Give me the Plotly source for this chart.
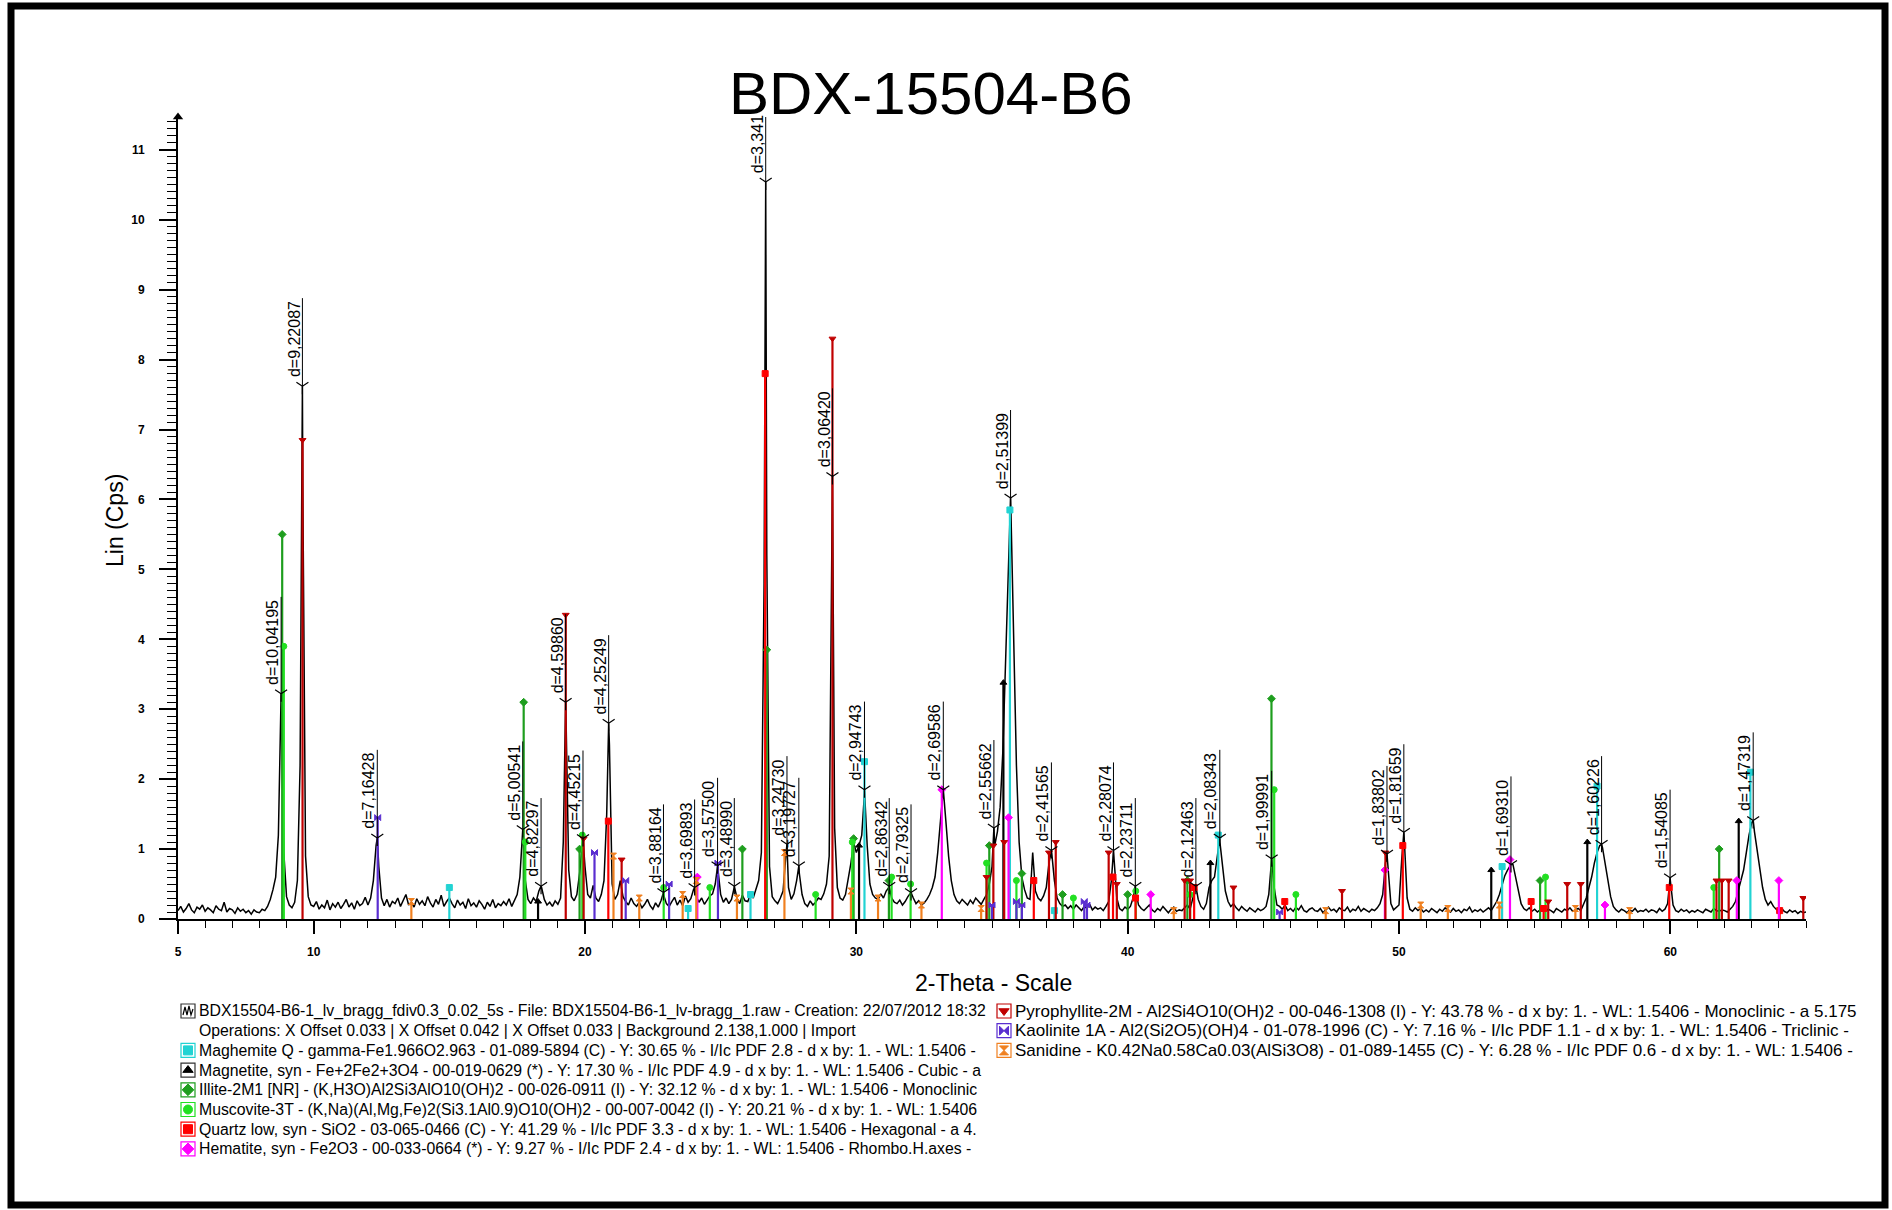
import plotly.graph_objects as go

W, H = 1892, 1210
PX0, PX1, PY_TOP, PY_BOT = 178, 1806, 117, 919
X_RANGE = [5, 65]
Y_RANGE = [0, 11.47]

# ---------------- measured pattern (Lin Cps), 0.1 deg steps from 5.0 to 65.0 ----
theta_start = 5.0
theta_step = 0.1
counts_rows = [
    [0.12,0.18,0.10,0.15,0.22,0.13,0.09,0.17,0.14,0.20],
    [0.11,0.16,0.13,0.09,0.19,0.14,0.12,0.24,0.10,0.15],
    [0.13,0.08,0.16,0.11,0.14,0.09,0.12,0.07,0.13,0.10],
    [0.09,0.14,0.12,0.18,0.28,0.42,0.60,1.20,3.22,0.95],
    [0.32,0.20,0.16,0.24,0.55,2.20,6.20,0.90,0.32,0.20],
    [0.18,0.25,0.14,0.20,0.16,0.27,0.13,0.22,0.17,0.24],
    [0.15,0.21,0.28,0.17,0.23,0.14,0.26,0.19,0.22,0.31],
    [0.20,0.30,0.55,1.05,0.75,0.30,0.19,0.28,0.17,0.25],
    [0.22,0.30,0.18,0.27,0.35,0.20,0.24,0.17,0.29,0.21],
    [0.26,0.19,0.32,0.23,0.17,0.28,0.21,0.34,0.18,0.25],
    [0.30,0.22,0.16,0.27,0.20,0.24,0.15,0.29,0.19,0.23],
    [0.17,0.26,0.21,0.14,0.24,0.18,0.28,0.16,0.22,0.19],
    [0.25,0.20,0.29,0.18,0.26,0.35,0.60,1.20,0.55,0.28],
    [0.22,0.30,0.25,0.40,0.45,0.28,0.20,0.24,0.18,0.26],
    [0.21,0.30,1.10,2.90,0.70,0.32,0.26,0.35,0.65,1.10],
    [0.75,0.35,0.30,0.48,0.30,0.25,0.35,0.55,1.50,2.50],
    [0.50,0.28,0.35,0.55,0.32,0.25,0.20,0.30,0.22,0.18],
    [0.24,0.16,0.21,0.28,0.19,0.14,0.23,0.17,0.26,0.34],
    [0.22,0.18,0.25,0.31,0.20,0.27,0.19,0.33,0.24,0.29],
    [0.42,0.32,0.24,0.30,0.21,0.27,0.33,0.36,0.50,0.70],
    [0.35,0.24,0.30,0.22,0.28,0.45,0.30,0.22,0.34,0.26],
    [0.25,0.35,0.30,0.42,0.55,0.95,4.80,5.20,0.75,0.32],
    [0.26,0.22,0.30,0.40,0.90,0.45,0.28,0.36,0.55,0.65],
    [0.35,0.22,0.18,0.26,0.20,0.24,0.30,0.28,0.36,0.50],
    [0.90,5.60,1.30,0.45,0.30,0.27,0.35,0.55,0.80,1.10],
    [0.95,1.05,1.20,1.80,1.05,0.50,0.35,0.30,0.28,0.36],
    [0.30,0.40,0.45,0.30,0.24,0.22,0.27,0.20,0.25,0.32],
    [0.38,0.30,0.22,0.26,0.20,0.23,0.28,0.35,0.45,0.60],
    [0.95,1.40,1.85,1.40,0.90,0.55,0.35,0.26,0.22,0.28],
    [0.24,0.20,0.27,0.22,0.30,0.25,0.21,0.28,0.35,0.50],
    [0.75,1.05,1.25,1.60,2.40,3.60,5.00,5.80,3.90,2.20],
    [1.10,0.60,0.42,0.30,0.28,0.95,0.40,0.30,0.26,0.33],
    [0.45,0.80,0.95,0.55,0.30,0.22,0.18,0.20,0.15,0.19],
    [0.14,0.20,0.16,0.12,0.18,0.15,0.21,0.13,0.17,0.14],
    [0.16,0.12,0.18,0.25,0.55,0.85,0.30,0.15,0.12,0.17],
    [0.14,0.18,0.30,0.40,0.20,0.15,0.12,0.16,0.20,0.13],
    [0.10,0.15,0.12,0.18,0.13,0.09,0.14,0.17,0.11,0.13],
    [0.12,0.16,0.20,0.14,0.30,0.45,0.28,0.18,0.14,0.22],
    [0.45,0.55,0.60,0.90,1.10,0.75,0.40,0.25,0.18,0.22],
    [0.16,0.12,0.18,0.14,0.11,0.16,0.13,0.10,0.15,0.12],
    [0.14,0.18,0.35,0.82,0.45,0.20,0.18,0.14,0.20,0.12],
    [0.15,0.11,0.17,0.13,0.19,0.12,0.10,0.14,0.16,0.12],
    [0.11,0.15,0.09,0.13,0.17,0.12,0.14,0.10,0.16,0.13],
    [0.12,0.17,0.10,0.14,0.12,0.18,0.11,0.15,0.13,0.10],
    [0.14,0.12,0.16,0.22,0.35,0.80,0.70,0.22,0.13,0.16],
    [0.20,0.85,1.10,0.30,0.14,0.11,0.16,0.12,0.15,0.10],
    [0.13,0.10,0.15,0.12,0.09,0.14,0.11,0.16,0.12,0.10],
    [0.15,0.11,0.13,0.09,0.14,0.12,0.17,0.10,0.13,0.11],
    [0.14,0.10,0.13,0.16,0.12,0.18,0.25,0.35,0.50,0.62],
    [0.70,0.75,0.78,0.60,0.40,0.22,0.15,0.12,0.16,0.11],
    [0.14,0.10,0.13,0.16,0.11,0.14,0.12,0.09,0.15,0.12],
    [0.10,0.14,0.12,0.16,0.11,0.13,0.15,0.12,0.20,0.30],
    [0.45,0.60,0.80,0.95,1.05,1.02,0.80,0.55,0.32,0.18],
    [0.13,0.10,0.14,0.12,0.09,0.13,0.11,0.15,0.10,0.12],
    [0.11,0.14,0.10,0.13,0.12,0.09,0.15,0.11,0.14,0.22],
    [0.55,0.20,0.12,0.10,0.14,0.11,0.13,0.09,0.12,0.10],
    [0.13,0.11,0.09,0.14,0.12,0.10,0.15,0.12,0.11,0.13],
    [0.12,0.10,0.14,0.18,0.25,0.40,0.55,0.70,0.95,1.20],
    [1.38,1.25,1.00,0.70,0.45,0.28,0.20,0.25,0.18,0.14],
    [0.12,0.15,0.11,0.09,0.13,0.10,0.12,0.08,0.11,0.09],
]
counts_last = 0.10

# ---------------- labelled peaks ----------------
label_2theta = [8.80, 9.585, 12.345, 17.706, 18.381, 19.286, 19.926, 20.872, 22.892,
                24.040, 24.886, 25.503, 26.660, 27.444, 27.881, 29.119, 30.300, 31.212,
                32.016, 33.205, 35.070, 35.684, 37.190, 39.477, 40.282, 42.514, 43.396,
                45.307, 49.557, 50.178, 54.127, 57.466, 59.991, 63.054]
label_counts = [3.22, 7.62, 1.16, 1.28, 0.47, 3.10, 1.15, 2.80, 0.38,
                0.45, 0.76, 0.47, 10.54, 1.07, 0.76, 6.33, 1.85, 0.47,
                0.38, 1.85, 1.30, 6.02, 0.98, 0.98, 0.47, 0.47, 1.16,
                0.86, 0.93, 1.24, 0.78, 1.07, 0.59, 1.41]
label_text = ["d=10,04195", "d=9,22087", "d=7,16428", "d=5,00541", "d=4,82297",
              "d=4,59860", "d=4,45215", "d=4,25249", "d=3,88164", "d=3,69893",
              "d=3,57500", "d=3,48990", "d=3,341", "d=3,24730", "d=3,19727",
              "d=3,06420", "d=2,94743", "d=2,86342", "d=2,79325", "d=2,69586",
              "d=2,55662", "d=2,51399", "d=2,41565", "d=2,28074", "d=2,23711",
              "d=2,12463", "d=2,08343", "d=1,99991", "d=1,83802", "d=1,81659",
              "d=1,69310", "d=1,60226", "d=1,54085", "d=1,47319"]

# ---------------- reference phase sticks ----------------
maghemite_2theta = [15.0, 23.8, 26.1, 30.3, 35.66, 37.3, 43.34, 53.8, 57.3, 62.95]
maghemite_I = [0.45, 0.15, 0.35, 2.25, 5.85, 0.12, 1.20, 0.75, 1.90, 2.10]
magnetite_2theta = [18.27, 30.1, 35.42, 43.05, 53.4, 56.94, 62.52]
magnetite_I = [0.25, 1.05, 3.38, 0.80, 0.70, 1.10, 1.40]
illite_2theta = [8.84, 17.74, 19.8, 25.8, 26.7, 29.9, 31.2, 34.9, 36.1, 37.6, 40.0, 42.2, 45.3, 55.2, 61.8]
illite_I = [5.50, 3.10, 1.00, 1.00, 3.85, 1.15, 0.55, 1.05, 0.65, 0.35, 0.35, 0.55, 3.15, 0.55, 1.00]
muscovite_2theta = [8.9, 17.8, 19.9, 22.9, 24.6, 28.5, 29.85, 31.3, 32.0, 34.8, 35.9, 38.0, 40.3, 42.3, 45.4, 46.2, 55.4, 61.6]
muscovite_I = [3.90, 1.10, 1.20, 0.45, 0.45, 0.35, 1.10, 0.60, 0.50, 0.80, 0.55, 0.30, 0.40, 0.35, 1.85, 0.35, 0.60, 0.45]
quartz_2theta = [20.86, 26.64, 36.54, 39.46, 40.29, 42.45, 45.79, 50.14, 54.87, 55.33, 59.96, 64.03]
quartz_I = [1.40, 7.80, 0.55, 0.60, 0.30, 0.45, 0.25, 1.05, 0.25, 0.15, 0.45, 0.12]
hematite_2theta = [24.14, 33.15, 35.61, 40.85, 49.48, 54.09, 57.59, 62.45, 64.0]
hematite_I = [0.60, 1.85, 1.45, 0.35, 0.70, 0.85, 0.20, 0.55, 0.55]
pyrophyllite_2theta = [9.59, 19.29, 19.95, 21.35, 29.12, 34.8, 35.05, 35.45, 37.1, 37.35, 39.3, 39.6,
                       42.1, 42.3, 43.9, 47.9, 49.5, 55.5, 56.2, 56.7, 61.7, 61.9, 62.15, 64.9]
pyrophyllite_I = [6.85, 4.35, 1.15, 0.85, 8.30, 0.60, 1.05, 1.10, 0.95, 1.10, 0.95, 0.50,
                  0.55, 0.55, 0.45, 0.40, 0.95, 0.25, 0.50, 0.50, 0.55, 0.55, 0.55, 0.30]
kaolinite_2theta = [12.36, 20.35, 21.5, 23.1, 24.9, 35.0, 35.9, 36.1, 38.4, 38.5, 45.6]
kaolinite_I = [1.45, 0.95, 0.55, 0.50, 0.80, 0.20, 0.25, 0.20, 0.25, 0.20, 0.10]
sanidine_2theta = [13.6, 21.05, 22.0, 23.6, 24.1, 25.6, 27.35, 29.8, 30.8, 32.4, 34.6, 41.7, 47.3, 50.8, 51.8, 53.7, 56.5, 58.5]
sanidine_I = [0.25, 0.90, 0.30, 0.35, 0.55, 0.30, 0.95, 0.40, 0.30, 0.20, 0.15, 0.12, 0.12, 0.20, 0.15, 0.20, 0.15, 0.12]

# ---------------- legend texts ----------------
legend_left = [
    "BDX15504-B6-1_lv_bragg_fdiv0.3_0.02_5s - File: BDX15504-B6-1_lv-bragg_1.raw - Creation: 22/07/2012 18:32",
    "Operations: X Offset 0.033 | X Offset 0.042 | X Offset 0.033 | Background 2.138,1.000 | Import",
    "Maghemite Q - gamma-Fe1.966O2.963 - 01-089-5894 (C) - Y: 30.65 % - I/Ic PDF 2.8 - d x by: 1. - WL: 1.5406 -",
    "Magnetite, syn - Fe+2Fe2+3O4 - 00-019-0629 (*) - Y: 17.30 % - I/Ic PDF 4.9 - d x by: 1. - WL: 1.5406 - Cubic - a",
    "Illite-2M1 [NR] - (K,H3O)Al2Si3AlO10(OH)2 - 00-026-0911 (I) - Y: 32.12 % - d x by: 1. - WL: 1.5406 - Monoclinic",
    "Muscovite-3T - (K,Na)(Al,Mg,Fe)2(Si3.1Al0.9)O10(OH)2 - 00-007-0042 (I) - Y: 20.21 % - d x by: 1. - WL: 1.5406",
    "Quartz low, syn - SiO2 - 03-065-0466 (C) - Y: 41.29 % - I/Ic PDF 3.3 - d x by: 1. - WL: 1.5406 - Hexagonal - a 4.",
    "Hematite, syn - Fe2O3 - 00-033-0664 (*) - Y: 9.27 % - I/Ic PDF 2.4 - d x by: 1. - WL: 1.5406 - Rhombo.H.axes -",
]
legend_right = [
    "Pyrophyllite-2M - Al2Si4O10(OH)2 - 00-046-1308 (I) - Y: 43.78 % - d x by: 1. - WL: 1.5406 - Monoclinic - a 5.175",
    "Kaolinite 1A - Al2(Si2O5)(OH)4 - 01-078-1996 (C) - Y: 7.16 % - I/Ic PDF 1.1 - d x by: 1. - WL: 1.5406 - Triclinic -",
    "Sanidine - K0.42Na0.58Ca0.03(AlSi3O8) - 01-089-1455 (C) - Y: 6.28 % - I/Ic PDF 0.6 - d x by: 1. - WL: 1.5406 -",
]

FONT = "Liberation Sans, Arial, sans-serif"

phases = [
    # (x, y, color, symbol, legend column, legend row)
    (maghemite_2theta, maghemite_I, "#22D3D3", "square", 0, 2),
    (magnetite_2theta, magnetite_I, "#000000", "triangle-up", 0, 3),
    (illite_2theta, illite_I, "#1E9E1E", "diamond", 0, 4),
    (muscovite_2theta, muscovite_I, "#22E022", "circle", 0, 5),
    (quartz_2theta, quartz_I, "#FF0000", "square", 0, 6),
    (hematite_2theta, hematite_I, "#FF00FF", "diamond", 0, 7),
    (pyrophyllite_2theta, pyrophyllite_I, "#C00000", "triangle-down", 1, 0),
    (kaolinite_2theta, kaolinite_I, "#5A2ED0", "bowtie", 1, 1),
    (sanidine_2theta, sanidine_I, "#F08020", "hourglass", 1, 2),
]

fig = go.Figure()

# pattern: grid values merged with the labelled apex points
grid_x, grid_y = [], []
i = 0
for row in counts_rows:
    for v in row:
        grid_x.append(round(theta_start + theta_step * i, 3))
        grid_y.append(v)
        i += 1
grid_x.append(round(theta_start + theta_step * i, 3))
grid_y.append(counts_last)
pts = sorted(list(zip(grid_x, grid_y)) + list(zip(label_2theta, label_counts)))
fig.add_trace(go.Scatter(x=[p[0] for p in pts], y=[p[1] for p in pts], mode="lines",
                         line=dict(color="black", width=1.5), hoverinfo="skip"))

# sticks
for xs, ys, col, sym, _, _ in phases:
    lx, ly = [], []
    for a, b in zip(xs, ys):
        lx += [a, a, None]
        ly += [0, b, None]
    fig.add_trace(go.Scatter(x=lx, y=ly, mode="lines", line=dict(color=col, width=2.2),
                             hoverinfo="skip"))
    fig.add_trace(go.Scatter(x=xs, y=ys, mode="markers", hoverinfo="skip",
                             marker=dict(symbol=sym, size=6, color=col,
                                         line=dict(color=col, width=1))))

# d-spacing labels
ppu = (PY_BOT - PY_TOP) / (Y_RANGE[1] - Y_RANGE[0])
LABEL_SIZE = 16
LABEL_SHIFT = 8
cw = {"d": 0.556, "=": 0.584, ",": 0.278, ".": 0.278}


def text_px(s):
    return sum(cw.get(c, 0.556) for c in s) * LABEL_SIZE


vx, vy = [], []
for t, c, s in zip(label_2theta, label_counts, label_text):
    top = min(c + (LABEL_SHIFT + text_px(s) + 4) / ppu, Y_RANGE[1])
    vx += [t, t, None]
    vy += [c, top, None]
    fig.add_annotation(x=t, y=c, text=s, textangle=-90, showarrow=False,
                       xanchor="right", yanchor="bottom", xshift=1, yshift=LABEL_SHIFT,
                       font=dict(family=FONT, size=LABEL_SIZE, color="black"),
                       borderpad=0)
fig.add_trace(go.Scatter(x=vx, y=vy, mode="lines", line=dict(color="black", width=1),
                         hoverinfo="skip"))
fig.add_trace(go.Scatter(x=label_2theta, y=label_counts, mode="markers", hoverinfo="skip",
                         marker=dict(symbol="y-down-open", size=10, color="black",
                                     line=dict(color="black", width=1.2))))

# y axis arrow head
fig.add_trace(go.Scatter(x=[X_RANGE[0]], y=[Y_RANGE[1]], mode="markers", cliponaxis=False,
                         hoverinfo="skip",
                         marker=dict(symbol="triangle-up", size=9, color="black")))

# ---------------- legend (pixel-coordinate overlay axes) ----------------
ROW0, ROWSTEP = 1011, 19.7
COLX = [188, 1004]
TEXTX = [197, 1013]
BOX = 7
LEG_SIZE = [15.8, 17]


def py(p):
    return 1 - p / H


def px(p):
    return p / W


mx, my, msym, mcol = [], [], [], []
for xs, ys, col, sym, colm, row in phases:
    cy = ROW0 + ROWSTEP * row
    cx = COLX[colm]
    fig.add_shape(type="rect", xref="paper", yref="paper",
                  x0=px(cx - BOX), x1=px(cx + BOX), y0=py(cy + BOX), y1=py(cy - BOX),
                  line=dict(color=col if col != "#000000" else "#333333", width=1.2),
                  fillcolor="rgba(0,0,0,0)")
    mx.append(cx)
    my.append(cy)
    msym.append(sym)
    mcol.append(col)
fig.add_trace(go.Scatter(x=mx, y=my, mode="markers", xaxis="x2", yaxis="y2", hoverinfo="skip",
                         cliponaxis=False,
                         marker=dict(symbol=msym, size=9, color=mcol,
                                     line=dict(color=mcol, width=1))))
# pattern icon
cy0 = ROW0
fig.add_shape(type="rect", xref="paper", yref="paper",
              x0=px(COLX[0] - BOX), x1=px(COLX[0] + BOX), y0=py(cy0 + BOX), y1=py(cy0 - BOX),
              line=dict(color="#333333", width=1.2), fillcolor="rgba(0,0,0,0)")
zig = [(-5, 4), (-3, -4), (-1, 4), (1, -5), (3, 4), (5, -2)]
path = "M " + " L ".join(f"{px(COLX[0] + a):.5f},{py(cy0 + b):.5f}" for a, b in zig)
fig.add_shape(type="path", xref="paper", yref="paper", path=path,
              line=dict(color="black", width=1.2))

for k, s in enumerate(legend_left):
    fig.add_annotation(x=px(TEXTX[0]), y=py(ROW0 + ROWSTEP * k), xref="paper", yref="paper",
                       text=s, showarrow=False, xanchor="left", yanchor="middle",
                       font=dict(family=FONT, size=LEG_SIZE[0], color="black"))
for k, s in enumerate(legend_right):
    fig.add_annotation(x=px(TEXTX[1]), y=py(ROW0 + ROWSTEP * k), xref="paper", yref="paper",
                       text=s, showarrow=False, xanchor="left", yanchor="middle",
                       font=dict(family=FONT, size=LEG_SIZE[1], color="black"))

# titles
fig.add_annotation(x=px(931), y=py(94), xref="paper", yref="paper", text="BDX-15504-B6",
                   showarrow=False, xanchor="center", yanchor="middle",
                   font=dict(family=FONT, size=60, color="black"))
fig.add_annotation(x=px(993), y=py(983), xref="paper", yref="paper", text="2-Theta - Scale",
                   showarrow=False, xanchor="center", yanchor="middle",
                   font=dict(family=FONT, size=23, color="black"))
fig.add_annotation(x=px(115), y=py(521), xref="paper", yref="paper", text="Lin (Cps)",
                   textangle=-90, showarrow=False, xanchor="center", yanchor="middle",
                   font=dict(family=FONT, size=23, color="black"))

# outer frame
fig.add_shape(type="rect", xref="paper", yref="paper", x0=px(11), x1=px(1885),
              y0=py(1205), y1=py(6), line=dict(color="black", width=7))

tickfont = dict(family=FONT, size=12, color="black", weight="bold")
fig.update_layout(
    width=W, height=H, showlegend=False,
    margin=dict(l=0, r=0, t=0, b=0, pad=0, autoexpand=False),
    paper_bgcolor="white", plot_bgcolor="rgba(0,0,0,0)",
    xaxis=dict(domain=[PX0 / W, PX1 / W], range=X_RANGE, showline=True, linecolor="black",
               linewidth=2, showgrid=False, zeroline=False, ticks="outside", ticklen=13,
               tickwidth=1.5, tickcolor="black", tickmode="array",
               tickvals=[5, 10, 20, 30, 40, 50, 60], tickfont=tickfont, ticklabelstandoff=8,
               minor=dict(tick0=5, dtick=1, ticks="outside", ticklen=7, tickwidth=1,
                          tickcolor="black", showgrid=False)),
    yaxis=dict(domain=[1 - PY_BOT / H, 1 - PY_TOP / H], range=Y_RANGE, showline=True,
               linecolor="black", linewidth=2, showgrid=False, zeroline=False, ticks="outside",
               ticklen=17, tickwidth=1.5, tickcolor="black", tickmode="array",
               tickvals=list(range(0, 12)), tickfont=tickfont, ticklabelstandoff=12,
               minor=dict(tick0=0, dtick=0.1, ticks="outside", ticklen=9, tickwidth=1,
                          tickcolor="black", showgrid=False)),
    xaxis2=dict(domain=[0, 1], range=[0, W], visible=False, anchor="y2", fixedrange=True),
    yaxis2=dict(domain=[0, 1], range=[H, 0], visible=False, anchor="x2", fixedrange=True),
)

fig.write_html("out.html", config={"displayModeBar": False},
               post_script="document.body.style.margin='0';")
